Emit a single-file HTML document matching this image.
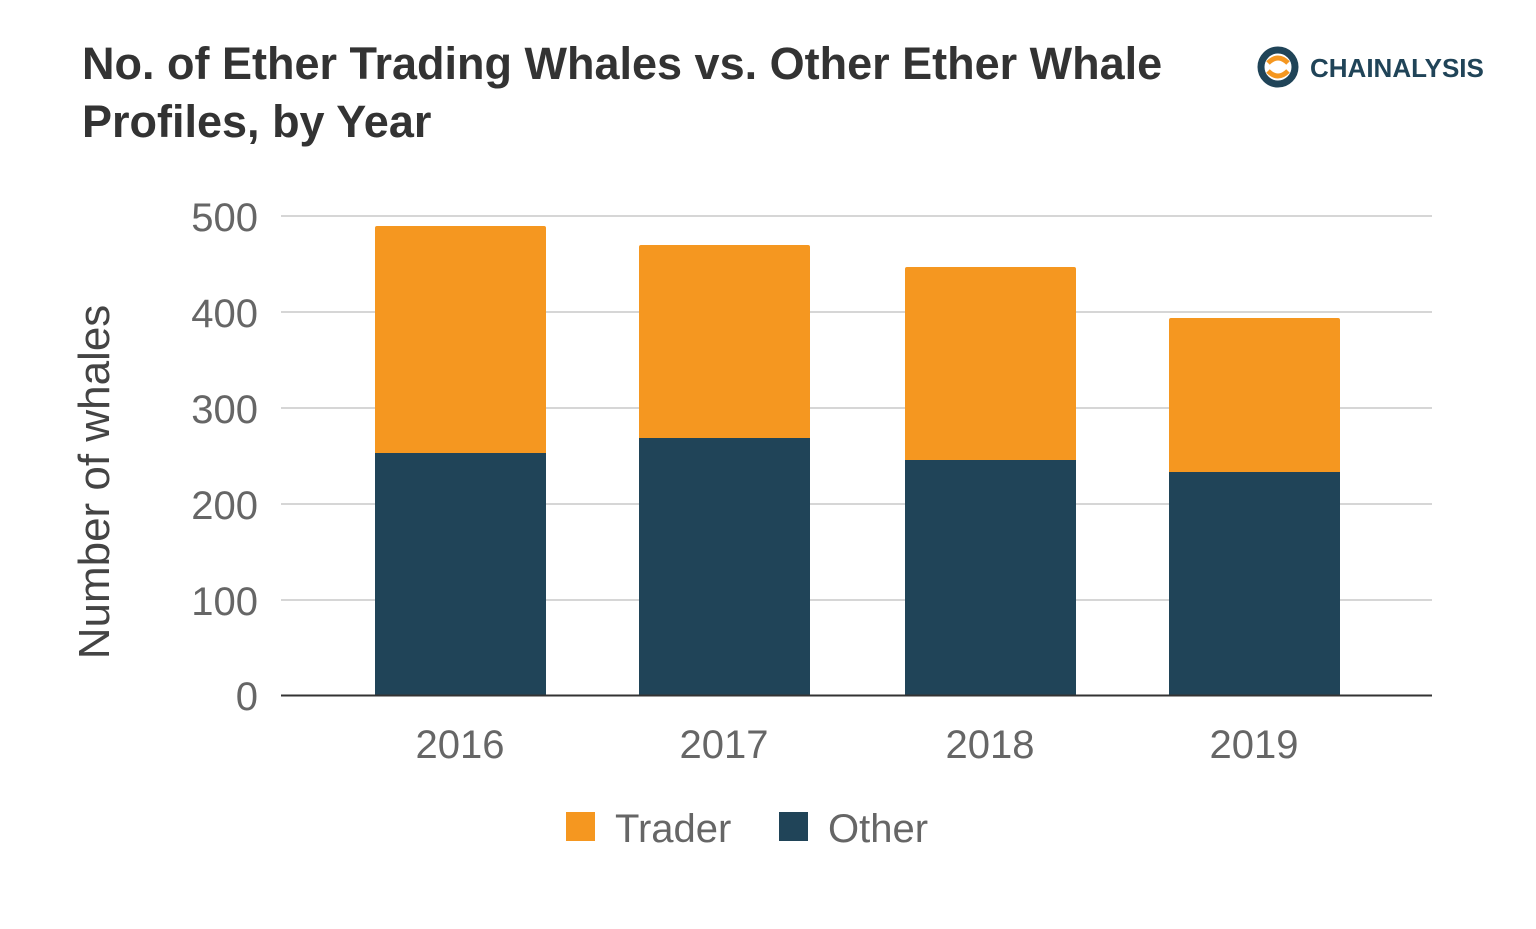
<!DOCTYPE html>
<html><head><meta charset="utf-8"><style>
body{margin:0;background:#fff;}
svg{display:block;}
</style></head><body>
<svg width="1536" height="929" xmlns="http://www.w3.org/2000/svg" font-family="Liberation Sans, sans-serif">
<text x="82" y="79" font-size="45" font-weight="bold" fill="#333">No. of Ether Trading Whales vs. Other Ether Whale</text>
<text x="82" y="137" font-size="45" font-weight="bold" fill="#333">Profiles, by Year</text>
<g transform="translate(1278,67)">
<circle r="17" fill="none" stroke="#204458" stroke-width="7"/>
<path d="M-10,-4 Q0,-14 10,-4" fill="none" stroke="#F59720" stroke-width="5"/>
<path d="M-10,4 Q0,14 10,4" fill="none" stroke="#F59720" stroke-width="5"/>
</g>
<text x="1310" y="77" font-size="26" font-weight="bold" fill="#204458">CHAINALYSIS</text>
<g stroke="#d6d6d6" stroke-width="2">
<line x1="281" x2="1432" y1="216" y2="216"/>
<line x1="281" x2="1432" y1="312" y2="312"/>
<line x1="281" x2="1432" y1="408" y2="408"/>
<line x1="281" x2="1432" y1="504" y2="504"/>
<line x1="281" x2="1432" y1="600" y2="600"/>
</g>
<g font-size="40" fill="#666" text-anchor="end">
<text x="258" y="231">500</text><text x="258" y="327">400</text><text x="258" y="423">300</text>
<text x="258" y="519">200</text><text x="258" y="615">100</text><text x="258" y="710">0</text>
</g>
<text transform="translate(109,482) rotate(-90)" font-size="44" fill="#444" text-anchor="middle">Number of whales</text>
<g fill="#F59720">
<rect x="375" y="226" width="171" height="230" rx="2"/>
<rect x="639" y="245" width="171" height="195" rx="2"/>
<rect x="905" y="267" width="171" height="195" rx="2"/>
<rect x="1169" y="318" width="171" height="156" rx="2"/>
</g>
<g fill="#204458">
<rect x="375" y="453" width="171" height="242"/>
<rect x="639" y="438" width="171" height="257"/>
<rect x="905" y="460" width="171" height="235"/>
<rect x="1169" y="472" width="171" height="223"/>
</g>
<line x1="281" x2="1432" y1="695.5" y2="695.5" stroke="#333" stroke-width="2"/>
<g font-size="40" fill="#666" text-anchor="middle">
<text x="460" y="758">2016</text><text x="724" y="758">2017</text>
<text x="990" y="758">2018</text><text x="1254" y="758">2019</text>
</g>
<rect x="566" y="812" width="29" height="29" fill="#F59720"/>
<text x="615" y="842" font-size="40" fill="#666">Trader</text>
<rect x="779" y="812" width="29" height="29" fill="#204458"/>
<text x="828" y="842" font-size="40" fill="#666">Other</text>
</svg>
</body></html>
